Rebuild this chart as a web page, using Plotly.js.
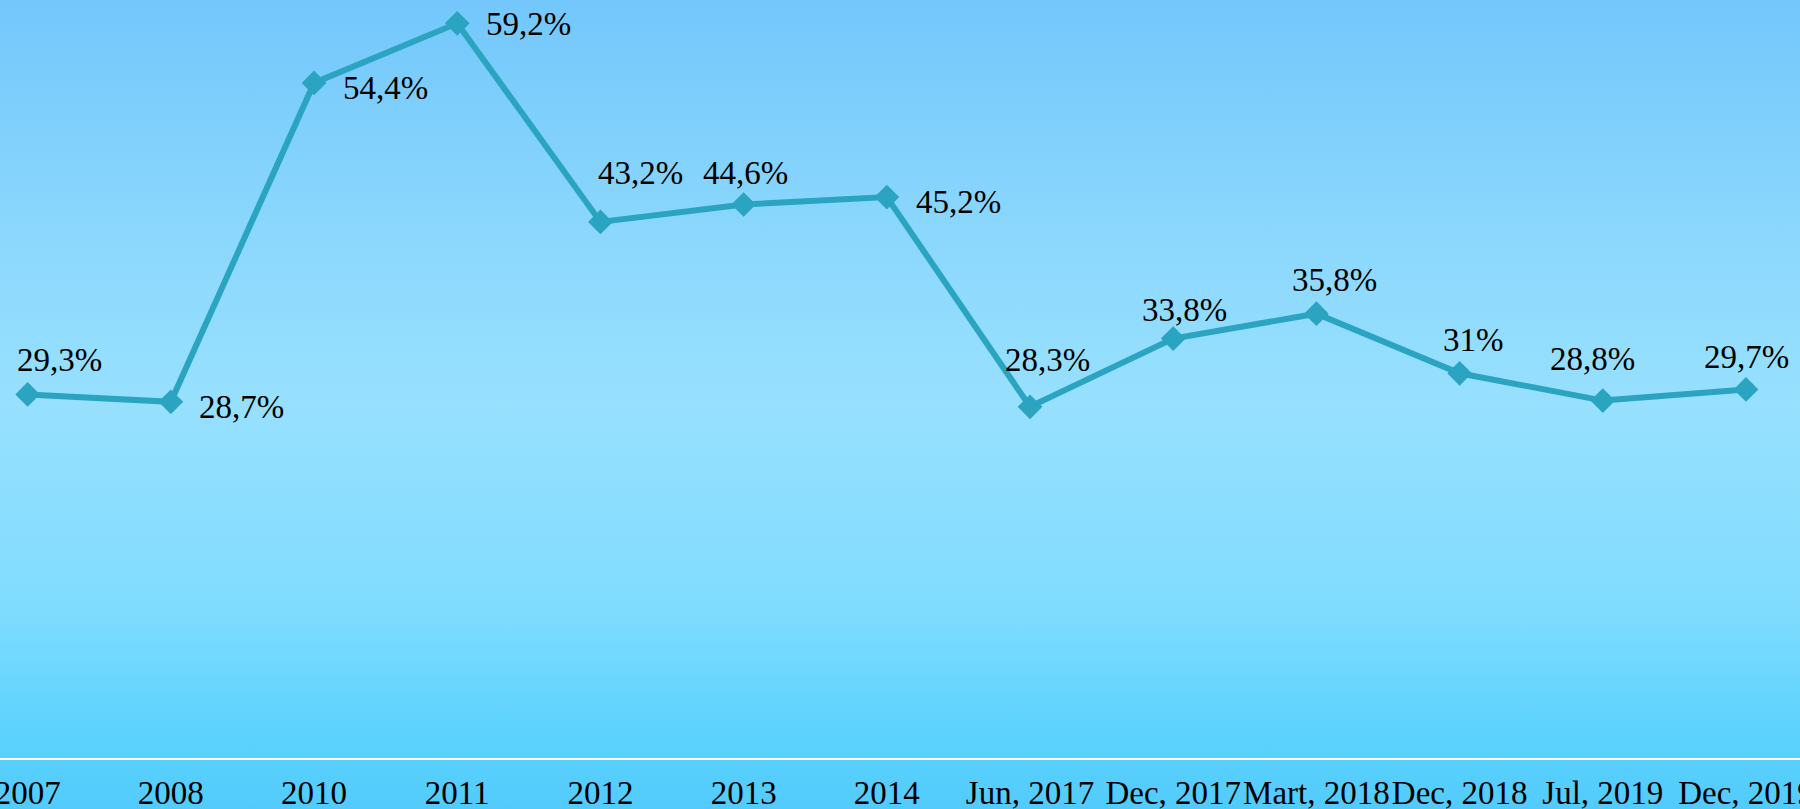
<!DOCTYPE html>
<html>
<head>
<meta charset="utf-8">
<script src="https://cdn.plot.ly/plotly-3.0.1.min.js"></script>
<style>
  html, body { margin: 0; padding: 0; }
  body { width: 1800px; height: 809px; overflow: hidden;
    background: linear-gradient(to bottom, #73c7fb 0%, #8cd8fd 30%, #97e0fe 50%, #80dcfe 75%, #5dd3fe 90%, #52cbfc 100%); }
  #chart { width: 1800px; height: 809px; }
</style>
</head>
<body>
<div id="chart"></div>
<script>
const categories = ["2007", "2008", "2010", "2011", "2012", "2013", "2014",
  "Jun, 2017", "Dec, 2017", "Mart, 2018", "Dec, 2018", "Jul, 2019", "Dec, 2019"];
const values = [29.3, 28.7, 54.4, 59.2, 43.2, 44.6, 45.2, 28.3, 33.8, 35.8, 31, 28.8, 29.7];
const labels = ["29,3%", "28,7%", "54,4%", "59,2%", "43,2%", "44,6%", "45,2%",
  "28,3%", "33,8%", "35,8%", "31%", "28,8%", "29,7%"];

// label offsets in pixels (dx right, dy down) relative to each point
const labelDx = [32, 71, 71, 71, 40, 2, 72, 17, 11, 18, 14, -10, 0];
const labelDy = [-34, 5, 5, 1, -49, -32, 5, -47, -29, -34, -33, -42, -32];

const lineColor = "#2ba4c1";
const fontFamily = "'Liberation Serif', 'Times New Roman', serif";

const trace = {
  type: "scatter",
  mode: "lines+markers",
  x: categories,
  y: values,
  line: { color: lineColor, width: 6 },
  marker: { symbol: "diamond", size: 19, color: lineColor },
  cliponaxis: false,
  hoverinfo: "skip"
};

// annotations placed by category index (numeric-looking category names
// would otherwise be read as positions)
const annotations = categories.map((c, i) => ({
  x: i, y: values[i], text: labels[i],
  showarrow: false, xanchor: "center", yanchor: "middle",
  xshift: labelDx[i], yshift: -labelDy[i],
  font: { family: fontFamily, size: 33, color: "#000000" }
}));

const layout = {
  width: 1800, height: 809,
  margin: { l: 0, r: 0, t: 0, b: 51, pad: 0 },
  paper_bgcolor: "rgba(0,0,0,0)",
  plot_bgcolor: "rgba(0,0,0,0)",
  showlegend: false,
  xaxis: {
    type: "category",
    range: [-0.193, 12.377],
    showgrid: false, zeroline: false,
    showline: true, linecolor: "#ffffff", linewidth: 2,
    ticks: "", ticklabelstandoff: 4,
    tickfont: { family: fontFamily, size: 33, color: "#000000" }
  },
  yaxis: {
    range: [0, 61.08],
    visible: false, showgrid: false, zeroline: false
  },
  annotations: annotations
};

Plotly.newPlot("chart", [trace], layout, { displayModeBar: false, staticPlot: true });
</script>
</body>
</html>
